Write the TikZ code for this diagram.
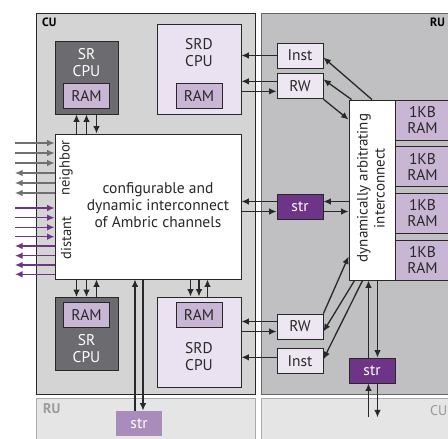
\documentclass[tikz,border=0pt]{standalone}
\usepackage{fontspec}
\setmainfont{PT Sans}
\usetikzlibrary{positioning,arrows.meta,calc}
\definecolor{cubg}{RGB}{212,212,212}
\definecolor{rubg}{RGB}{192,192,195}
\definecolor{lowbg}{RGB}{229,229,230}
\definecolor{lowline}{RGB}{170,170,172}
\definecolor{cpudark}{RGB}{108,108,112}
\definecolor{ramlilac}{RGB}{200,182,212}
\definecolor{srdbg}{RGB}{234,226,240}
\definecolor{portbg}{RGB}{237,231,241}
\definecolor{strpurple}{RGB}{110,52,135}
\definecolor{strfaded}{RGB}{170,140,186}
\definecolor{txt}{RGB}{40,40,40}
\definecolor{arrgray}{RGB}{112,112,114}

\begin{document}
\begin{tikzpicture}[x=1pt,y=-1pt,font=\fontsize{15.5}{17}\selectfont,
  region/.style={draw=txt,line width=0.8pt,anchor=north west,inner sep=0pt},
  faded/.style={draw=lowline,fill=lowbg,line width=0.8pt,anchor=north west,inner sep=0pt},
  cpu/.style={draw=txt,fill=cpudark,line width=0.8pt,minimum width=63pt,minimum height=73pt},
  srd/.style={draw=txt,fill=srdbg,line width=0.8pt,minimum width=84pt,minimum height=90pt},
  ramb/.style={draw=txt,fill=ramlilac,line width=0.8pt,minimum width=46pt,minimum height=25pt,inner sep=0pt,text=txt},
  port/.style={draw=txt,fill=portbg,line width=0.8pt,minimum width=46pt,minimum height=25pt,inner sep=0pt,text=txt},
  strbox/.style={draw=txt,fill=strpurple,line width=0.8pt,text=white,minimum width=46pt,minimum height=25pt,inner sep=0pt},
  kram/.style={draw=txt,fill=ramlilac,line width=0.8pt,minimum width=55pt,minimum height=40pt,inner sep=0pt,align=center,text=txt,font=\fontsize{15.5}{16}\selectfont},
  lbl/.style={inner sep=0pt,align=center,text=txt},
  arr/.style={-{Latex[length=7.5pt,width=6.5pt]},line width=1.3pt,draw=txt},
  garr/.style={arr,draw=arrgray},
  parr/.style={arr,draw=strpurple}]
\useasboundingbox (0,0) rectangle (448,439);

% regions
\node[region,fill=cubg,minimum width=219pt,minimum height=381pt] (cu) at (36,13) {};
\node[region,fill=rubg,draw=black!60,minimum width=200pt,minimum height=381pt] (ru) at (261,13) {};
\node[faded,minimum width=219pt,minimum height=50pt] (ruLow) at (36,398) {};
\node[faded,minimum width=200pt,minimum height=50pt] (cuLow) at (261,398) {};
\node[anchor=west,inner sep=0pt,font=\fontsize{12}{14}\bfseries\selectfont] (cuLbl) at (42,22) {CU};
\node[anchor=west,inner sep=0pt,font=\fontsize{12}{14}\bfseries\selectfont] (ruLbl) at (430,22) {RU};
\node[anchor=west,inner sep=0pt,text=black!40,font=\fontsize{14}{15}\bfseries\selectfont] (ruLowLbl) at (43,409) {RU};
\node[anchor=west,inner sep=0pt,text=black!40,font=\fontsize{14}{15}\selectfont] (cuLowLbl) at (430,411) {CU};

% CU contents
\node[cpu] (srT) at (86.5,77.5) {};
\node[ramb] (srTram) at (86.5,95.5) {RAM};
\node[lbl,text=white] (srTtxt) at (86.5,63) {SR\\CPU};
\node[srd] (srdT) at (199,69) {};
\node[ramb] (srdTram) at (199,95.5) {RAM};
\node[lbl] (srdTtxt) at (199,53) {SRD\\CPU};

\node[region,fill=white,anchor=center,minimum width=186pt,minimum height=145pt] (ic) at (148,206.5) {};
\node[lbl] (ictxt) at (158,205) {configurable and\\dynamic interconnect\\of Ambric channels};
\node[lbl,rotate=90,font=\fontsize{14.5}{15}\selectfont] (nbTxt) at (66,168) {neighbor};
\node[lbl,rotate=90,font=\fontsize{14.5}{15}\selectfont] (dsTxt) at (66,238) {distant};

\node[cpu] (srB) at (86.5,334) {};
\node[ramb] (srBram) at (86.5,315) {RAM};
\node[lbl,text=white] (srBtxt) at (86.5,348.5) {SR\\CPU};
\node[srd] (srdB) at (199,342) {};
\node[ramb] (srdBram) at (199,315) {RAM};
\node[lbl] (srdBtxt) at (199,356.5) {SRD\\CPU};

% RU contents
\node[port] (instT) at (300,55.5) {Inst};
\node[port,below=5pt of instT] (rwT) {RW};
\node[strbox] (strM) at (300,206.5) {str};
\node[port] (rwB) at (300,326.5) {RW};
\node[port,below=9pt of rwB] (instB) {Inst};
\node[region,fill=white,anchor=center,minimum width=46pt,minimum height=180pt] (dai) at (372,190) {};
\node[lbl,rotate=90,font=\fontsize{15}{17}\selectfont] (daiTxt) at (371,188) {dynamically arbitrating\\interconnect};
\foreach \i in {0,...,3}
  \node[kram] (kram\i) at (422.5,120+46.67*\i) {1KB\\RAM};
\node[strbox] (strR) at (372,370.5) {str};
\node[strbox,draw=none,fill=strfaded] (strL) at (139,423.5) {str};

% links CU
\foreach \dx in {-10,0}
  \draw[arr] ([xshift=\dx]srT.south |- ic.north) -- ([xshift=\dx]srT.south);
\draw[arr] ([xshift=10]srT.south) -- ([xshift=10]srT.south |- ic.north);
\foreach \dx in {-10,0}
  \draw[arr] ([xshift=\dx]srB.north |- ic.south) -- ([xshift=\dx]srB.north);
\draw[arr] ([xshift=10]srB.north) -- ([xshift=10]srB.north |- ic.south);
\foreach \dx in {-8.5,0}
  \draw[arr] ([xshift=\dx]srdB.north |- ic.south) -- ([xshift=\dx]srdB.north);
\draw[arr] ([xshift=8.5]srdB.north) -- ([xshift=8.5]srdB.north |- ic.south);
\draw[arr] ([xshift=-4]strL.north) -- ([xshift=-4]strL.north |- ic.south);
\draw[arr] ([xshift=4]strL.north |- ic.south) -- ([xshift=4]strL.north);

% outside channels
\foreach \y [count=\i] in {143,153,163}{
  \coordinate (nbin\i) at (15,\y);
  \draw[garr] (nbin\i) -- (nbin\i -| ic.west);}
\foreach \y [count=\i] in {173,183,193}{
  \coordinate (nbout\i) at (15,\y);
  \draw[garr] (nbout\i -| ic.west) -- (nbout\i);}
\foreach \y [count=\i] in {208,217.7,227.3,236.7}{
  \coordinate (dsin\i) at (15,\y);
  \draw[parr] (dsin\i) -- (dsin\i -| ic.west);}
\foreach \y [count=\i] in {246,255.7,265,274.3}{
  \coordinate (dsout\i) at (15,\y);
  \draw[parr] (dsout\i -| ic.west) -- (dsout\i);}

% links CU <-> RU
\draw[arr] (instT.west) -- (instT.west -| srdT.east);
\draw[arr] ([yshift=5]rwT.west) -- ([yshift=5]rwT.west -| srdT.east);
\draw[arr] ([yshift=-5]rwT.west -| srdT.east) -- ([yshift=-5]rwT.west);
\draw[arr] ([yshift=5]strM.west) -- ([yshift=5]strM.west -| ic.east);
\draw[arr] ([yshift=-5]strM.west -| ic.east) -- ([yshift=-5]strM.west);
\draw[arr] ([yshift=5]rwB.west) -- ([yshift=5]rwB.west -| srdB.east);
\draw[arr] ([yshift=-5]rwB.west -| srdB.east) -- ([yshift=-5]rwB.west);
\draw[arr] ([yshift=4]instB.west) -- ([yshift=4]instB.west -| srdB.east);

% links in RU
\draw[arr] (dai.north) -- ([yshift=-2]instT.east);
\draw[arr] ([xshift=3]dai.north west) -- ([yshift=7]rwT.east);
\draw[arr] (rwT.south east) -- ([yshift=-20]dai.north west);
\draw[arr] ([yshift=5]strM.east -| dai.west) -- ([yshift=5]strM.east);
\draw[arr] ([yshift=-5]strM.east) -- ([yshift=-5]strM.east -| dai.west);
\draw[arr] (rwB.north east) -- ([yshift=24]dai.south west);
\draw[arr] ([xshift=6]dai.south west) -- ([yshift=-5]rwB.east);
\draw[arr] ([xshift=14]dai.south west) -- ([yshift=2]instB.east);
\draw[arr] ([xshift=-3.5]strR.north) -- ([xshift=-3.5]strR.north |- dai.south);
\draw[arr] ([xshift=5.5]strR.north |- dai.south) -- ([xshift=5.5]strR.north);
\draw[arr] ([xshift=-3.5]strR.south) ++(0,34) -- ([xshift=-3.5]strR.south);
\draw[arr] ([xshift=5.5]strR.south) -- ++(0,34);
\end{tikzpicture}
\end{document}
